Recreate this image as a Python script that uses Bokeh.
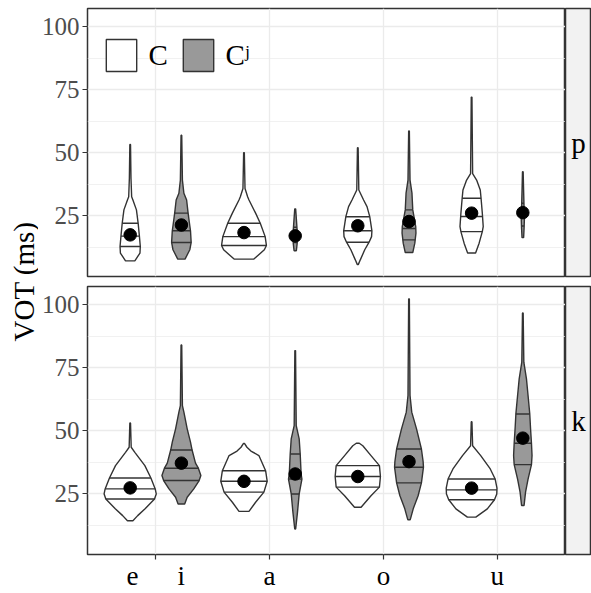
import numpy as np
from bokeh.plotting import figure
from bokeh.models import ColumnDataSource, FixedTicker, Range1d, Label, Legend, LegendItem
from bokeh.layouts import row, column
from bokeh.embed import file_html
from bokeh.resources import INLINE
from bokeh.core.properties import value

# ---------------- data ----------------
categories = [1, 2, 3, 4]                      # x positions of the vowel groups
tick_labels = ["e\u00a0\u00a0\u00a0\u00a0\u00a0\u2009i", "a", "o", "u"]
series_names = ["C", "C\u02b2"]
panel_names = ["p", "k"]
y_ticks = [25, 50, 75, 100]
y_minor = [12.5, 37.5, 62.5, 87.5]

# violin outlines: VOT levels (ms, top -> bottom) and half-widths (category units)
p_C_vot = [
    [53.3, 40.0, 32.6, 31.3, 27.4, 22.1, 17.5, 12.9, 10.3, 7.2],
    [50.1, 35.9, 32.6, 31.3, 26.1, 22.1, 16.8, 13.3, 11.6, 7.9],
    [52.0, 35.3, 31.3, 28.7, 24.7, 19.1, 16.8, 14.6, 11.6, 7.6, 5.7],
    [72.1, 41.8, 39.2, 35.3, 32.0, 26.1, 20.8, 18.8, 14.2, 10.3],
]
p_C_hw = [
    [0.003, 0.007, 0.013, 0.024, 0.055, 0.070, 0.080, 0.089, 0.086, 0.041],
    [0.003, 0.009, 0.032, 0.044, 0.102, 0.143, 0.186, 0.197, 0.179, 0.087],
    [0.003, 0.009, 0.051, 0.081, 0.105, 0.124, 0.121, 0.099, 0.061, 0.022, 0.004],
    [0.003, 0.009, 0.044, 0.076, 0.083, 0.094, 0.102, 0.094, 0.066, 0.035],
]
p_Cj_vot = [
    [57.0, 39.2, 34.0, 31.3, 26.1, 21.4, 19.1, 14.5, 11.6, 7.9],
    [27.8, 24.0, 20.0, 17.1, 14.0, 11.2],
    [58.7, 39.2, 34.0, 27.4, 22.8, 20.8, 18.2, 14.2, 10.5],
    [42.5, 35.0, 28.0, 24.0, 20.0, 16.4],
]
p_Cj_hw = [
    [0.003, 0.009, 0.022, 0.046, 0.059, 0.073, 0.080, 0.086, 0.074, 0.032],
    [0.004, 0.010, 0.016, 0.019, 0.017, 0.010],
    [0.003, 0.009, 0.026, 0.033, 0.051, 0.059, 0.061, 0.051, 0.033],
    [0.003, 0.007, 0.011, 0.014, 0.011, 0.007],
]
k_C_vot = [
    [53.1, 43.5, 41.5, 36.2, 31.3, 27.0, 25.0, 23.0, 19.1, 16.4, 14.4],
    [45.0, 43.5, 42.0, 40.2, 34.2, 30.0, 25.7, 21.7, 18.1],
    [45.1, 44.1, 40.2, 36.2, 31.9, 27.7, 24.3, 19.7],
    [53.6, 44.1, 40.2, 34.9, 30.9, 27.3, 25.0, 22.7, 19.1, 15.8],
]
k_C_hw = [
    [0.003, 0.009, 0.041, 0.129, 0.182, 0.220, 0.229, 0.214, 0.131, 0.066, 0.024],
    [0.004, 0.026, 0.061, 0.131, 0.190, 0.204, 0.175, 0.102, 0.044],
    [0.013, 0.044, 0.116, 0.190, 0.199, 0.190, 0.116, 0.029],
    [0.003, 0.009, 0.080, 0.164, 0.207, 0.223, 0.221, 0.201, 0.138, 0.037],
]
k_Cj_vot = [
    [84.0, 60.0, 57.4, 50.8, 45.5, 42.4, 37.2, 35.2, 32.3, 30.3, 27.0, 23.7, 21.0],
    [81.8, 52.1, 46.8, 40.8, 32.9, 30.9, 25.0, 17.7, 11.1],
    [102.3, 64.0, 57.4, 50.8, 42.8, 37.8, 35.6, 29.4, 24.3, 19.1, 14.8],
    [96.7, 77.2, 70.6, 64.0, 56.7, 50.8, 45.1, 40.2, 36.6, 30.9, 25.7, 20.4],
]
k_Cj_hw = [
    [0.003, 0.009, 0.022, 0.051, 0.080, 0.094, 0.124, 0.149, 0.171, 0.156, 0.109, 0.051, 0.029],
    [0.003, 0.009, 0.035, 0.044, 0.052, 0.059, 0.035, 0.020, 0.004],
    [0.003, 0.009, 0.024, 0.066, 0.109, 0.124, 0.127, 0.109, 0.080, 0.037, 0.011],
    [0.003, 0.009, 0.032, 0.046, 0.061, 0.068, 0.076, 0.081, 0.076, 0.046, 0.024, 0.011],
]

# quartiles (25%, 50%, 75%) and means per vowel group
p_C_q = [(12.9, 17.0, 22.1), (13.3, 16.8, 22.1), (14.6, 19.1, 24.7), (18.8, 24.8, 32.0)]
p_Cj_q = [(14.5, 19.1, 26.1), (14.5, 17.0, 20.5), (15.5, 20.0, 27.4), (21.0, 25.5, 30.0)]
k_C_q = [(23.0, 27.0, 31.3), (25.7, 30.0, 34.2), (27.7, 31.9, 36.2), (22.7, 26.6, 30.9)]
k_Cj_q = [(30.3, 35.2, 42.4), (25.0, 30.9, 40.8), (29.4, 35.6, 42.8), (36.6, 45.1, 56.7)]
p_C_mean = [17.5, 18.4, 21.1, 26.1]
p_Cj_mean = [21.4, 17.1, 22.8, 26.3]
k_C_mean = [27.4, 30.0, 31.9, 27.3]
k_Cj_mean = [37.2, 32.9, 37.8, 47.1]

# ---------------- styling ----------------
FONT = "Liberation Serif"
EDGE = "#333333"
GRID = "#EBEBEB"
FILLS = ["white", "#999999"]
DODGE = [-0.225, 0.225]
Y0, Y1 = 1.0, 107.2


def violin_sources(vots, hws, qs, means, offset):
    xs, ys = [], []
    sx0, sx1, sy = [], [], []
    mx, my = [], []
    for i, (vot, hw) in enumerate(zip(vots, hws)):
        c = categories[i] + offset
        vot = np.asarray(vot, float)
        hw = np.asarray(hw, float)
        xs.append(list(np.concatenate([c + hw, (c - hw)[::-1]])))
        ys.append(list(np.concatenate([vot, vot[::-1]])))
        for q in qs[i]:
            w = float(np.interp(q, vot[::-1], hw[::-1]))
            sx0.append(c - w)
            sx1.append(c + w)
            sy.append(q)
        mx.append(c)
        my.append(means[i])
    return (ColumnDataSource(dict(xs=xs, ys=ys)),
            ColumnDataSource(dict(x0=sx0, x1=sx1, y=sy)),
            ColumnDataSource(dict(x=mx, y=my)))


def make_panel(data, height, top, bottom, show_x, legend):
    p = figure(width=527, height=height, x_range=Range1d(0.4, 4.6), y_range=Range1d(Y0, Y1),
               output_backend="svg", toolbar_location=None,
               min_border_left=47, min_border_right=0, min_border_top=top, min_border_bottom=bottom,
               x_axis_location="below" if show_x else None)
    p.outline_line_color = EDGE
    p.outline_line_width = 1.5
    p.background_fill_color = "white"
    p.border_fill_color = "white"

    p.yaxis.ticker = FixedTicker(ticks=y_ticks, minor_ticks=y_minor)
    p.yaxis.axis_line_color = None
    p.yaxis.major_tick_line_color = EDGE
    p.yaxis.major_tick_line_width = 1.2
    p.yaxis.major_tick_out = 5
    p.yaxis.major_tick_in = 0
    p.yaxis.minor_tick_line_color = None
    p.yaxis.major_label_text_font = FONT
    p.yaxis.major_label_text_font_size = "25px"
    p.yaxis.major_label_text_color = "#4D4D4D"
    p.yaxis.major_label_standoff = 3

    p.ygrid.grid_line_color = GRID
    p.ygrid.grid_line_width = 1.3
    p.ygrid.minor_grid_line_color = GRID
    p.ygrid.minor_grid_line_width = 0.7
    p.xgrid.ticker = FixedTicker(ticks=categories)
    p.xgrid.grid_line_color = GRID
    p.xgrid.grid_line_width = 1.3

    if show_x:
        p.xaxis.ticker = FixedTicker(ticks=categories)
        p.xaxis.major_label_overrides = {c: t for c, t in zip(categories, tick_labels)}
        p.xaxis.axis_line_color = None
        p.xaxis.major_tick_line_color = EDGE
        p.xaxis.major_tick_line_width = 1.2
        p.xaxis.major_tick_out = 5
        p.xaxis.major_tick_in = 0
        p.xaxis.minor_tick_line_color = None
        p.xaxis.major_label_text_font = FONT
        p.xaxis.major_label_text_font_size = "27px"
        p.xaxis.major_label_text_color = "black"
        p.xaxis.major_label_standoff = 1

    renderers = []
    for s, (vots, hws, qs, means) in enumerate(data):
        vsrc, qsrc, msrc = violin_sources(vots, hws, qs, means, DODGE[s])
        r = p.patches("xs", "ys", source=vsrc, fill_color=FILLS[s], line_color=EDGE, line_width=1.4)
        p.segment(x0="x0", y0="y", x1="x1", y1="y", source=qsrc, line_color=EDGE, line_width=1.4)
        renderers.append(r)
    for s, (vots, hws, qs, means) in enumerate(data):
        _, _, msrc = violin_sources(vots, hws, qs, means, DODGE[s])
        p.scatter("x", "y", source=msrc, size=12.5, fill_color="black", line_color="black")

    if legend:
        lg = Legend(items=[LegendItem(label=series_names[i], renderers=[renderers[i]]) for i in range(2)],
                    location=(14.5, 200.7), orientation="horizontal",
                    glyph_width=38, glyph_height=40, label_standoff=9, spacing=10,
                    padding=0, margin=0, border_line_color=None, background_fill_alpha=0,
                    label_text_font=FONT, label_text_font_size="29px", label_text_color="black")
        p.add_layout(lg)
    return p


def make_strip(text, height, top, bottom):
    s = figure(width=26, height=height, x_range=Range1d(0, 1), y_range=Range1d(0, 1),
               output_backend="svg", toolbar_location=None,
               min_border_left=0, min_border_right=0, min_border_top=top, min_border_bottom=bottom,
               x_axis_location=None, y_axis_location=None)
    s.background_fill_color = "#F2F2F2"
    s.border_fill_color = "white"
    s.outline_line_color = EDGE
    s.outline_line_width = 1.5
    s.xgrid.visible = False
    s.ygrid.visible = False
    s.text(x=[0.5], y=[0.5], text=[text], text_align="center", text_baseline="middle",
           text_font=value(FONT), text_font_size=value("29px"), text_color="black")
    return s


top_h, bot_h = 281, 312
top = make_panel([(p_C_vot, p_C_hw, p_C_q, p_C_mean), (p_Cj_vot, p_Cj_hw, p_Cj_q, p_Cj_mean)],
                 top_h, 8, 5, False, True)
bot = make_panel([(k_C_vot, k_C_hw, k_C_q, k_C_mean), (k_Cj_vot, k_Cj_hw, k_Cj_q, k_Cj_mean)],
                 bot_h, 5, 39, True, False)
strip_top = make_strip(panel_names[0], top_h, 8, 5)
strip_bot = make_strip(panel_names[1], bot_h, 5, 39)

lab = figure(width=38, height=top_h + bot_h, output_backend="svg", toolbar_location=None,
             min_border=0, x_axis_location=None, y_axis_location=None)
lab.outline_line_color = None
lab.xgrid.visible = False
lab.ygrid.visible = False
lab.add_layout(Label(x=23, y=312, x_units="screen", y_units="screen", text="VOT (ms)",
                     angle=90, angle_units="deg", text_align="center", text_baseline="middle",
                     text_font=FONT, text_font_size="29px", text_color="black"))

layout = row(lab, column(row(top, strip_top), row(bot, strip_bot)))

open("out.html", "w").write(file_html(layout, INLINE))
